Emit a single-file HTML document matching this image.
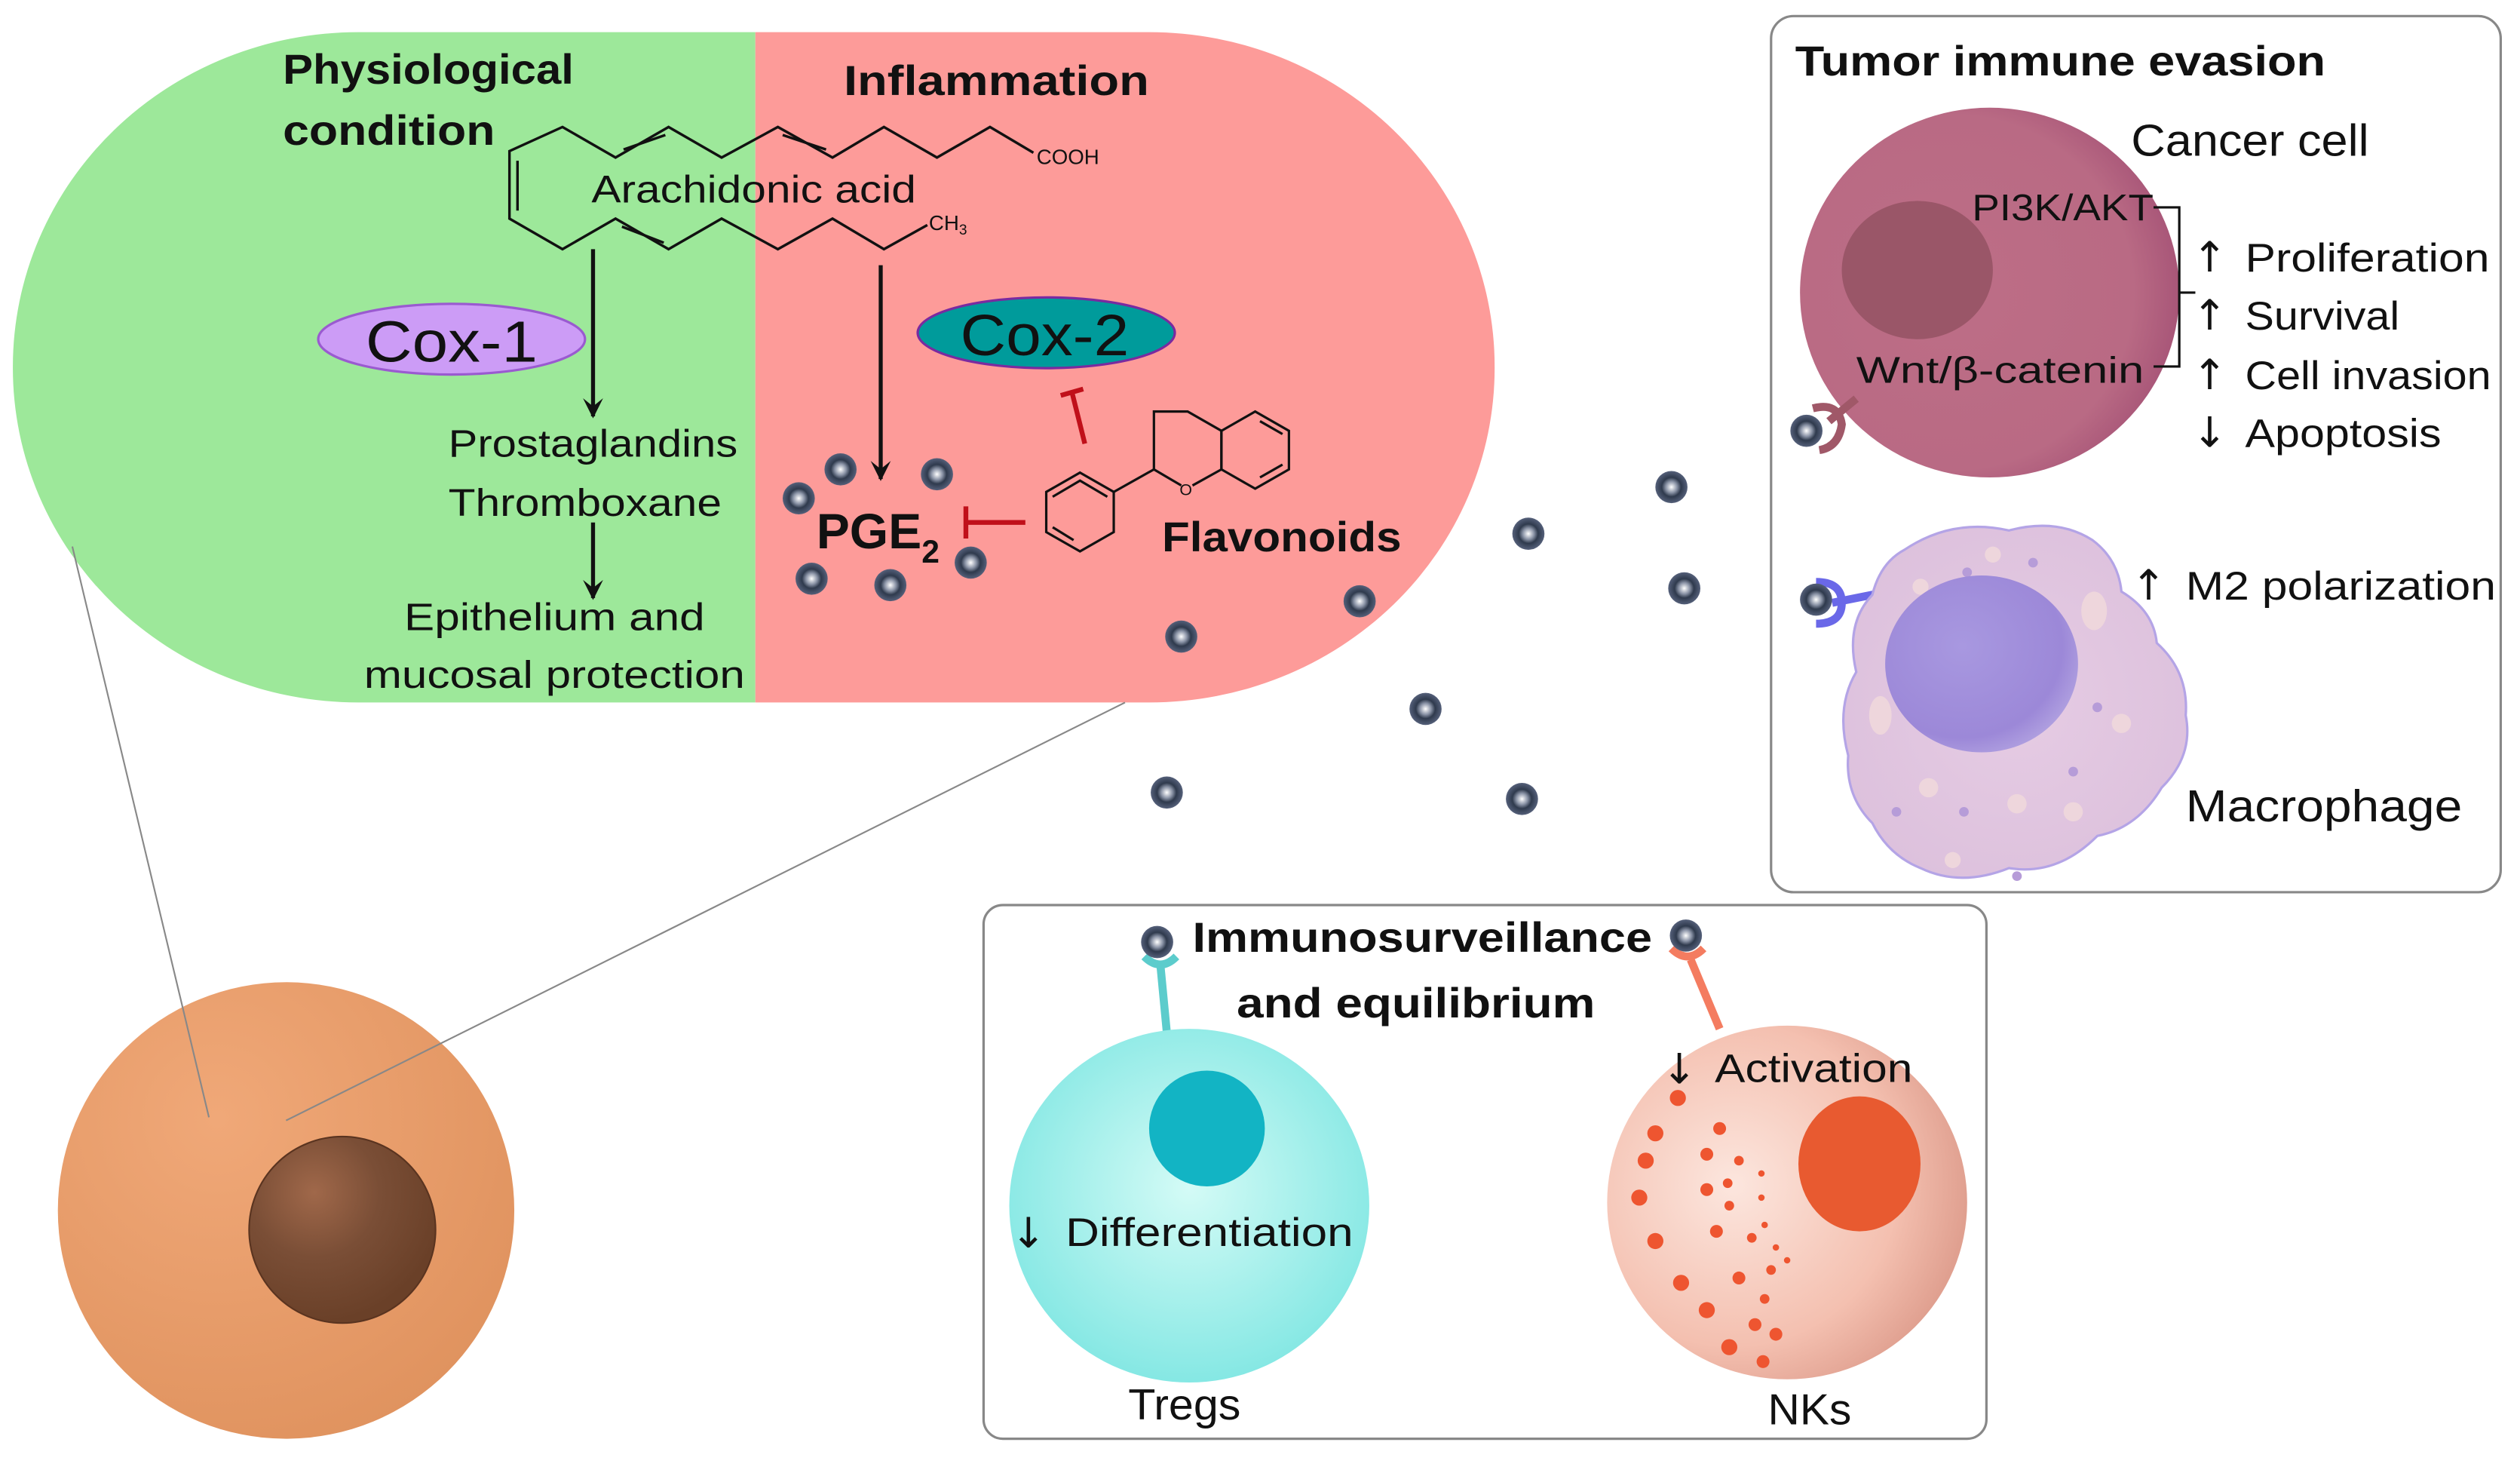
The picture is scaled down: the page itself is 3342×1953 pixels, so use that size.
<!DOCTYPE html>
<html><head><meta charset="utf-8"><style>
html,body{margin:0;padding:0;background:#fff;}
svg{display:block;}
text{font-family:"Liberation Sans",sans-serif;fill:#111;}
.b{font-weight:bold;}
.ar{font-family:"DejaVu Sans",sans-serif;}
</style></head><body>
<svg width="3342" height="1953" viewBox="0 0 1568 916.3" preserveAspectRatio="none" xmlns="http://www.w3.org/2000/svg">
<defs>
<radialGradient id="pt" cx="50%" cy="50%" r="50%">
<stop offset="0" stop-color="#fff"/><stop offset="0.35" stop-color="#8a93a6"/><stop offset="0.6" stop-color="#2f3a4d"/><stop offset="1" stop-color="#55607a"/></radialGradient>
<radialGradient id="cell" cx="35%" cy="30%" r="75%"><stop offset="0" stop-color="#f0a878"/><stop offset="1" stop-color="#e0935f"/></radialGradient>
<radialGradient id="nuc" cx="35%" cy="30%" r="70%"><stop offset="0" stop-color="#a0684a"/><stop offset="0.5" stop-color="#7a4e36"/><stop offset="1" stop-color="#6a4028"/></radialGradient>
<radialGradient id="can" cx="40%" cy="50%" r="60%"><stop offset="0" stop-color="#bd6e86"/><stop offset="0.8" stop-color="#b96a84"/><stop offset="1" stop-color="#a85678"/></radialGradient>
<radialGradient id="treg" cx="50%" cy="45%" r="60%"><stop offset="0" stop-color="#d4fbf6"/><stop offset="1" stop-color="#7ee6e2"/></radialGradient>
<radialGradient id="nk" cx="35%" cy="45%" r="65%"><stop offset="0" stop-color="#fce6de"/><stop offset="0.7" stop-color="#f4c0b0"/><stop offset="1" stop-color="#e0a090"/></radialGradient>
<radialGradient id="mac" cx="50%" cy="50%" r="60%"><stop offset="0" stop-color="#e6cce4"/><stop offset="1" stop-color="#dcc0dc"/></radialGradient>
<radialGradient id="macn" cx="40%" cy="40%" r="65%"><stop offset="0" stop-color="#a898e0"/><stop offset="0.8" stop-color="#9c88d8"/><stop offset="1" stop-color="#b0a0e0"/></radialGradient>
<clipPath id="pill"><rect x="8" y="20" width="922" height="417" rx="215" ry="208"/></clipPath>
<marker id="ah" viewBox="0 0 10 10" refX="9" refY="5" markerWidth="5" markerHeight="5" orient="auto"><path d="M0,0 L10,5 L0,10 L4,5z" fill="#111"/></marker>
</defs>

<g clip-path="url(#pill)">
<rect x="0" y="0" width="470" height="460" fill="#9de89a"/>
<rect x="470" y="0" width="470" height="460" fill="#fd9b99"/>
</g>

<text class="b" x="176" y="52" font-size="26" textLength="181" lengthAdjust="spacingAndGlyphs">Physiological</text>
<text class="b" x="176" y="90" font-size="26" textLength="132" lengthAdjust="spacingAndGlyphs">condition</text>
<text class="b" x="525" y="59" font-size="26" textLength="190" lengthAdjust="spacingAndGlyphs">Inflammation</text>

<g fill="none" stroke="#111" stroke-width="1.6">
<polyline points="643,95 616,79 583,98 550,79 518,98 484,79 449,98 416,79 383,98 350,79 317,94 317,136 350,155 383,136 416,155 449,136 484,155 518,136 550,155 577,140"/>
<line x1="322" y1="100" x2="322" y2="131"/>
<line x1="388" y1="93" x2="414" y2="84"/>
<line x1="487" y1="84" x2="514" y2="93"/>
<line x1="387" y1="141" x2="413" y2="151"/>
</g>
<text x="645" y="102" font-size="13">COOH</text>
<text x="578" y="143" font-size="13">CH<tspan font-size="9" dy="3">3</tspan></text>
<text x="368" y="126" font-size="24" textLength="202" lengthAdjust="spacingAndGlyphs">Arachidonic acid</text>

<g stroke="#111" stroke-width="2.5" marker-end="url(#ah)">
<line x1="369" y1="155" x2="369" y2="259"/>
<line x1="369" y1="325" x2="369" y2="372"/>
<line x1="548" y1="165" x2="548" y2="298"/>
</g>

<ellipse cx="281" cy="211" rx="83" ry="22" fill="#cc9cf6" stroke="#9a5ad0" stroke-width="1.5"/>
<text x="281" y="225" font-size="36" text-anchor="middle" textLength="107" lengthAdjust="spacingAndGlyphs">Cox-1</text>
<ellipse cx="651" cy="207" rx="80" ry="22" fill="#009b9b" stroke="#7a2aa0" stroke-width="1.5"/>
<text x="650" y="221" font-size="36" text-anchor="middle" textLength="105" lengthAdjust="spacingAndGlyphs">Cox-2</text>

<text x="369" y="284" font-size="24" text-anchor="middle" textLength="180" lengthAdjust="spacingAndGlyphs">Prostaglandins</text>
<text x="364" y="321" font-size="24" text-anchor="middle" textLength="170" lengthAdjust="spacingAndGlyphs">Thromboxane</text>
<text x="345" y="392" font-size="24" text-anchor="middle" textLength="187" lengthAdjust="spacingAndGlyphs">Epithelium and</text>
<text x="345" y="428" font-size="24" text-anchor="middle" textLength="237" lengthAdjust="spacingAndGlyphs">mucosal protection</text>

<text class="b" x="508" y="341" font-size="31">PGE<tspan font-size="20" dy="9">2</tspan></text>

<g stroke="#c0101a" stroke-width="3" fill="none">
<line x1="638" y1="325" x2="601" y2="325"/><line x1="601" y1="315" x2="601" y2="335"/>
<line x1="675" y1="276" x2="667" y2="244"/><line x1="660" y1="246" x2="674" y2="242"/>
</g>

<g fill="none" stroke="#111" stroke-width="1.5">
<polygon points="672,294 693,306 693,331 672,343 651,331 651,306"/>
<polyline points="655,309 672,299 689,309"/><line x1="655" y1="328" x2="668" y2="336"/>
<polyline points="693,306 718,292 735,302"/>
<polyline points="742,302 760,292 760,268 739,256 718,256 718,292"/>
<polygon points="760,268 781,256 802,268 802,292 781,304 760,292"/>
<line x1="784" y1="262" x2="798" y2="270"/><line x1="798" y1="289" x2="784" y2="297"/>
</g>
<text x="734" y="308" font-size="10">O</text>
<text class="b" x="723" y="343" font-size="26" textLength="149" lengthAdjust="spacingAndGlyphs">Flavonoids</text>

<g fill="url(#pt)">
<circle cx="497" cy="310" r="10"/><circle cx="523" cy="292" r="10"/><circle cx="583" cy="295" r="10"/>
<circle cx="505" cy="360" r="10"/><circle cx="554" cy="364" r="10"/><circle cx="604" cy="350" r="10"/>
<circle cx="735" cy="396" r="10"/><circle cx="846" cy="374" r="10"/><circle cx="951" cy="332" r="10"/>
<circle cx="1040" cy="303" r="10"/><circle cx="1048" cy="366" r="10"/><circle cx="887" cy="441" r="10"/>
<circle cx="726" cy="493" r="10"/><circle cx="947" cy="497" r="10"/>
</g>

<circle cx="178" cy="753" r="142" fill="url(#cell)"/>
<circle cx="213" cy="765" r="58" fill="url(#nuc)" stroke="#5a3420" stroke-width="1"/>
<line x1="45" y1="340" x2="130" y2="695" stroke="#888" stroke-width="1"/>
<line x1="700" y1="437" x2="178" y2="697" stroke="#888" stroke-width="1"/>

<rect x="1102" y="10" width="454" height="545" rx="14" fill="none" stroke="#888" stroke-width="1.5"/>
<text class="b" x="1117" y="47" font-size="26" textLength="330" lengthAdjust="spacingAndGlyphs">Tumor immune evasion</text>
<ellipse cx="1238" cy="182" rx="118" ry="115" fill="url(#can)"/>
<ellipse cx="1193" cy="168" rx="47" ry="43" fill="#9a5668"/>
<line x1="1155" y1="248" x2="1138" y2="262" stroke="#a05868" stroke-width="5"/>
<path d="M1128,254 q16,-4 18,10 q-2,14 -14,16" stroke="#a05868" stroke-width="5" fill="none"/>
<circle cx="1124" cy="268" r="10" fill="url(#pt)"/>
<text x="1326" y="97" font-size="28" textLength="148" lengthAdjust="spacingAndGlyphs">Cancer cell</text>
<text x="1340" y="137" font-size="23" text-anchor="end" textLength="113" lengthAdjust="spacingAndGlyphs">PI3K/AKT</text>
<text x="1334" y="238" font-size="23" text-anchor="end" textLength="179" lengthAdjust="spacingAndGlyphs">Wnt/β-catenin</text>
<path d="M1340,129 L1356,129 L1356,228 L1340,228 M1356,182 L1366,182" fill="none" stroke="#111" stroke-width="1.5"/>
<text class="ar" x="1364" y="169" font-size="26">↑</text><text class="ar" x="1364" y="205" font-size="26">↑</text><text class="ar" x="1364" y="242" font-size="26">↑</text><text class="ar" x="1364" y="278" font-size="26">↓</text>
<text x="1397" y="169" font-size="25" textLength="152" lengthAdjust="spacingAndGlyphs">Proliferation</text>
<text x="1397" y="205" font-size="25" textLength="96" lengthAdjust="spacingAndGlyphs">Survival</text>
<text x="1397" y="242" font-size="25" textLength="153" lengthAdjust="spacingAndGlyphs">Cell invasion</text>
<text x="1397" y="278" font-size="25" textLength="122" lengthAdjust="spacingAndGlyphs">Apoptosis</text>

<path d="M1140,375 L1175,368" stroke="#6a68e8" stroke-width="5"/>
<path d="M1130,362 q16,0 16,13 q0,13 -16,13" stroke="#6a68e8" stroke-width="5" fill="none"/>
<path d="M1185,342 Q1215,322 1250,330 Q1280,322 1302,336 Q1318,348 1320,368 Q1340,380 1342,400 Q1362,418 1360,445 Q1365,470 1345,490 Q1330,515 1305,520 Q1280,545 1250,540 Q1220,552 1195,540 Q1175,532 1165,512 Q1148,495 1150,470 Q1142,440 1155,418 Q1148,388 1165,370 Q1170,350 1185,342z" fill="url(#mac)" stroke="#b4a4e6" stroke-width="1.5"/>
<g fill="#eed6dc"><ellipse cx="1303" cy="380" rx="8" ry="12"/><ellipse cx="1170" cy="445" rx="7" ry="12"/><circle cx="1280" cy="400" r="5"/><circle cx="1320" cy="450" r="6"/><circle cx="1200" cy="490" r="6"/><circle cx="1255" cy="500" r="6"/><circle cx="1215" cy="535" r="5"/><circle cx="1290" cy="505" r="6"/><circle cx="1240" cy="345" r="5"/><circle cx="1195" cy="365" r="5"/></g>
<g fill="#b69cd8"><circle cx="1224" cy="356" r="3"/><circle cx="1265" cy="350" r="3"/><circle cx="1290" cy="480" r="3"/><circle cx="1180" cy="505" r="3"/><circle cx="1222" cy="505" r="3"/><circle cx="1255" cy="545" r="3"/><circle cx="1305" cy="440" r="3"/></g>
<ellipse cx="1233" cy="413" rx="60" ry="55" fill="url(#macn)"/>
<circle cx="1130" cy="373" r="10" fill="url(#pt)"/>
<text class="ar" x="1326" y="373" font-size="26">↑</text>
<text x="1360" y="373" font-size="25" textLength="193" lengthAdjust="spacingAndGlyphs">M2 polarization</text>
<text x="1360" y="511" font-size="28" textLength="172" lengthAdjust="spacingAndGlyphs">Macrophage</text>

<rect x="612" y="563" width="624" height="332" rx="12" fill="none" stroke="#888" stroke-width="1.5"/>
<text class="b" x="885" y="592" font-size="26" text-anchor="middle" textLength="286" lengthAdjust="spacingAndGlyphs">Immunosurveillance</text>
<text class="b" x="881" y="633" font-size="26" text-anchor="middle" textLength="223" lengthAdjust="spacingAndGlyphs">and equilibrium</text>

<line x1="722" y1="600" x2="726" y2="642" stroke="#5ccccc" stroke-width="5"/>
<path d="M712,595 q10,10 20,0" stroke="#5ccccc" stroke-width="5" fill="none"/>
<circle cx="720" cy="586" r="10" fill="url(#pt)"/>
<ellipse cx="740" cy="750" rx="112" ry="110" fill="url(#treg)"/>
<ellipse cx="751" cy="702" rx="36" ry="36" fill="#12b4c4"/>
<text class="ar" x="629" y="776" font-size="26">↓</text>
<text x="663" y="775" font-size="25" textLength="179" lengthAdjust="spacingAndGlyphs">Differentiation</text>
<text x="702" y="883" font-size="27" textLength="70" lengthAdjust="spacingAndGlyphs">Tregs</text>

<line x1="1052" y1="597" x2="1070" y2="640" stroke="#f47c60" stroke-width="5"/>
<path d="M1040,590 q10,10 20,0" stroke="#f47c60" stroke-width="5" fill="none"/>
<circle cx="1049" cy="582" r="10" fill="url(#pt)"/>
<ellipse cx="1112" cy="748" rx="112" ry="110" fill="url(#nk)"/>
<ellipse cx="1157" cy="724" rx="38" ry="42" fill="#e85a30"/>
<g fill="#ee5530">
<circle cx="1044" cy="683" r="5"/><circle cx="1070" cy="702" r="4"/><circle cx="1030" cy="705" r="5"/><circle cx="1082" cy="722" r="3"/><circle cx="1062" cy="718" r="4"/><circle cx="1024" cy="722" r="5"/><circle cx="1075" cy="736" r="3"/><circle cx="1062" cy="740" r="4"/><circle cx="1020" cy="745" r="5"/><circle cx="1076" cy="750" r="3"/><circle cx="1096" cy="730" r="2"/><circle cx="1096" cy="745" r="2"/><circle cx="1098" cy="762" r="2"/><circle cx="1068" cy="766" r="4"/><circle cx="1090" cy="770" r="3"/><circle cx="1105" cy="776" r="2"/><circle cx="1112" cy="784" r="2"/><circle cx="1030" cy="772" r="5"/><circle cx="1102" cy="790" r="3"/><circle cx="1082" cy="795" r="4"/><circle cx="1046" cy="798" r="5"/><circle cx="1098" cy="808" r="3"/><circle cx="1092" cy="824" r="4"/><circle cx="1062" cy="815" r="5"/><circle cx="1105" cy="830" r="4"/><circle cx="1076" cy="838" r="5"/><circle cx="1097" cy="847" r="4"/>
</g>
<text class="ar" x="1034" y="674" font-size="26">↓</text>
<text x="1067" y="673" font-size="25" textLength="123" lengthAdjust="spacingAndGlyphs">Activation</text>
<text x="1100" y="886" font-size="27" textLength="52" lengthAdjust="spacingAndGlyphs">NKs</text>
</svg>
</body></html>
